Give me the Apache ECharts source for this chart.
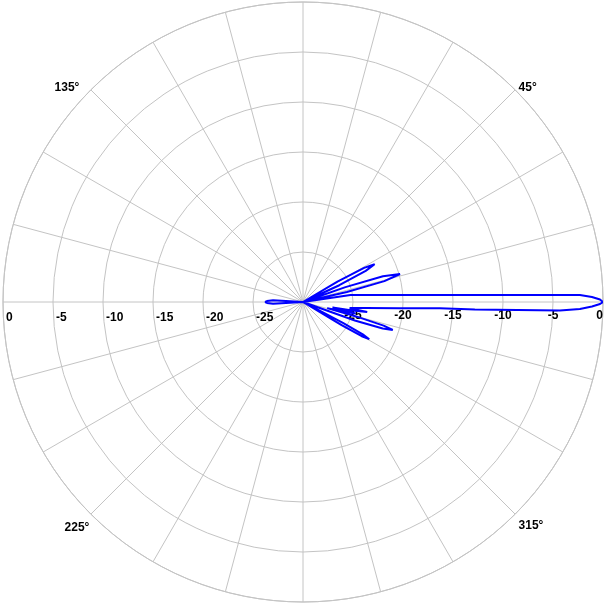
<!DOCTYPE html>
<html>
<head>
<meta charset="utf-8">
<script src="https://cdn.jsdelivr.net/npm/echarts@6/dist/echarts.min.js"></script>
<style>
html,body{margin:0;padding:0;background:#fff;}
#chart{width:605px;height:605px;}
</style>
</head>
<body>
<div id="chart"></div>
<script>
// Pattern angles (degrees) and gain (dB)
var angles = [-180, -178.5, -176.5, -174,
  -32, -31, -30.2, -29.3, -28.4, -27.5, -26.5,
  -21, -19.6, -18.4, -17.3, -16.3, -15.2, -14.2,
  -13.2, -12.4, -11.6, -10.6, -9.8, -8.9, -8.0, -7.3, -5.5,
  -3.72, -2.63, -2.5, -1.89, -1.45, -0.89, -0.39, 0,
  0.48, 0.99, 1.45, 1.59, 2.03, 2.73, 4.13, 8.47, 10.5,
  12.0, 12.9, 14.4, 16.1, 17.8, 19.3, 20.5,
  24.0, 24.8, 26.4, 27.8, 29.2, 30.6, 31.5,
  174, 176.5, 178.5, 180];
var gains = [-26.2, -26.4, -27, -30,
  -30, -25.5, -23.2, -22.4, -23.2, -25.5, -30,
  -30, -24.5, -21.6, -20.6, -21.6, -24.5, -27.5,
  -25.8, -24.6, -25.8, -27.0, -25.0, -23.5, -24.8, -25.3, -23.7,
  -20.3, -16.3, -12.8, -4.3, -2.3, -1.1, -0.3, 0,
  -0.3, -1.1, -2.3, -4.8, -10.3, -15.3, -20.3, -25.2, -30,
  -30, -25.5, -21.6, -19.9, -21.6, -25.5, -30,
  -30, -26, -23, -21.9, -23, -26, -30,
  -30, -27, -26.4, -26.2];
var radiusTicks = [-30, -25, -20, -15, -10, -5, 0];
var angleLabels = [45, 135, 225, 315];

var data = angles.map(function (a, i) {
  return [gains[i], a < 0 ? a + 360 : a];
});

var gridColor = '#c4c4c4';
var font = {color: '#000', fontWeight: 'bold', fontSize: 12, fontFamily: 'Liberation Sans'};
function withFont(o) { return Object.assign({}, font, o); }

var angleRich = {
  a45: withFont({padding: [0, 0, 0, 7]}),
  a135: withFont({padding: [0, 15, 0, 0]}),
  a225: withFont({padding: [11, 5, 0, 0]}),
  a315: withFont({padding: [9, 0, 0, 7]})
};
function radLabel(v) { return v === radiusTicks[0] ? '' : String(v); }

var chart = echarts.init(document.getElementById('chart'), null, {renderer: 'canvas'});
chart.setOption({
  animation: false,
  backgroundColor: '#fff',
  polar: [
    {center: [303, 302], radius: 300},
    {center: [303, 302], radius: 300}
  ],
  angleAxis: [
    {
      polarIndex: 0, type: 'value', min: 0, max: 360, interval: 15,
      startAngle: 0, clockwise: false,
      axisLine: {show: true, lineStyle: {color: gridColor, width: 1}},
      axisTick: {show: false},
      splitLine: {show: true, lineStyle: {color: gridColor, width: 1}},
      axisLabel: withFont({
        margin: -5,
        rich: angleRich,
        formatter: function (v) {
          return angleLabels.indexOf(v) >= 0 ? '{a' + v + '|' + v + '°}' : '';
        }
      })
    },
    {
      polarIndex: 1, type: 'value', min: 0, max: 360, interval: 15,
      startAngle: 180, clockwise: false, show: false
    }
  ],
  radiusAxis: [
    {
      polarIndex: 0, type: 'value', min: -30, max: 0, interval: 5,
      axisLine: {show: false}, axisTick: {show: false},
      splitLine: {show: true, lineStyle: {color: gridColor, width: 1}},
      axisLabel: withFont({margin: -8, verticalAlign: 'top', alignMaxLabel: 'right', formatter: radLabel}),
      z: 1
    },
    {
      polarIndex: 1, type: 'value', min: -30, max: 0, interval: 5,
      axisLine: {show: false}, axisTick: {show: false},
      splitLine: {show: false},
      axisLabel: withFont({margin: 10, align: 'left', padding: [0, 0, 0, 3], formatter: radLabel})
    }
  ],
  series: [{
    type: 'line',
    coordinateSystem: 'polar',
    polarIndex: 0,
    data: data,
    showSymbol: false,
    symbol: 'none',
    lineStyle: {color: '#0000ff', width: 2},
    clip: false,
    z: 5
  }]
});
</script>
</body>
</html>
